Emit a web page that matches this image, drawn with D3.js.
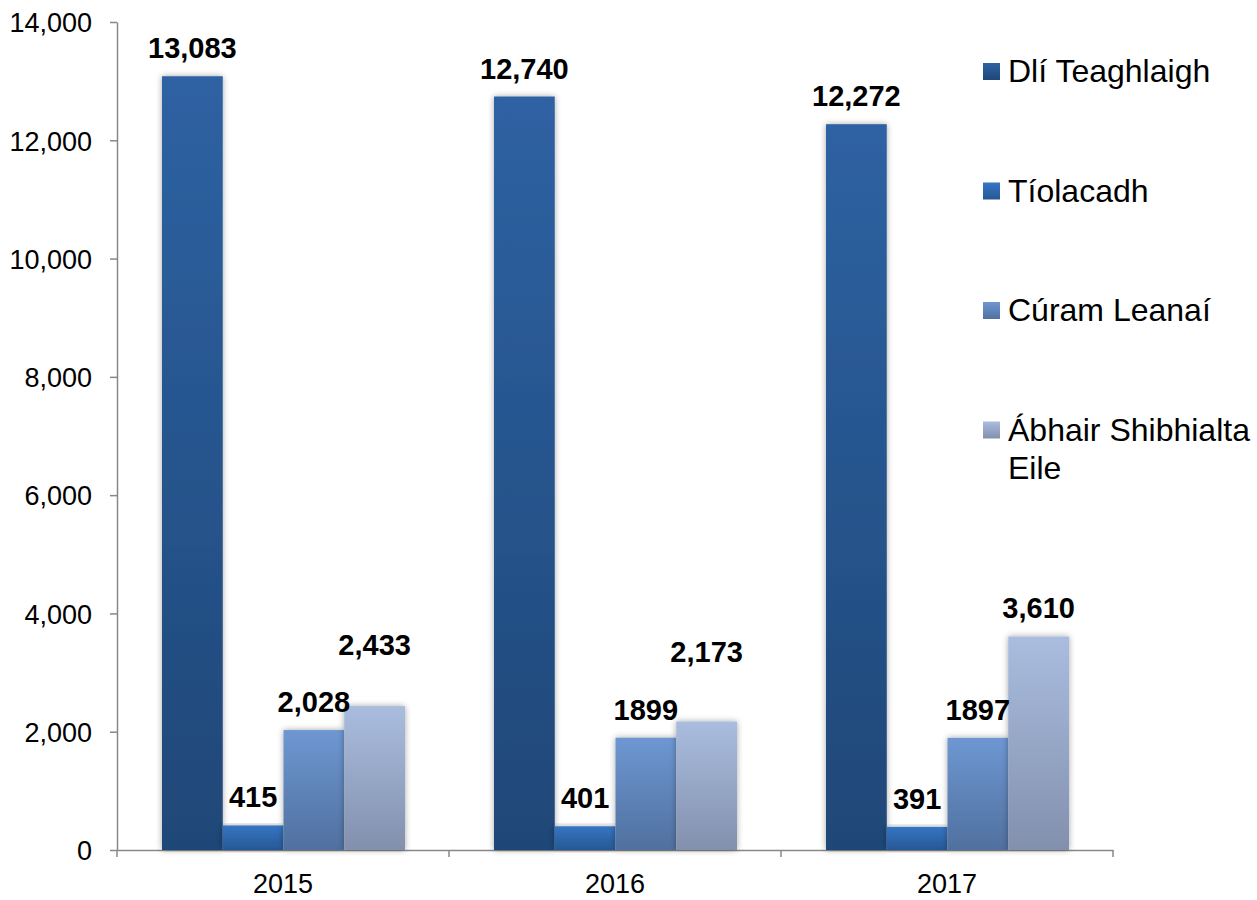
<!DOCTYPE html>
<meta charset="utf-8">
<script src="https://d3js.org/d3.v7.min.js"></script>
<style>
  body { margin: 0; background: #fff; }
  svg text { font-family: "Liberation Sans", Arimo, Arial, sans-serif; }
</style>
<div id="my_dataviz"></div>
<script>

// data
var years = ["2015", "2016", "2017"]
var seriesNames = ["Dlí Teaghlaigh", "Tíolacadh", "Cúram Leanaí", "Ábhair Shibhialta Eile"]
var dliTeaghlaigh = [13083, 12740, 12272]
var tiolacadh = [415, 401, 391]
var curamLeanai = [2028, 1899, 1897]
var abhairEile = [2433, 2173, 3610]
var labelTexts = [
  ["13,083", "12,740", "12,272"],
  ["415", "401", "391"],
  ["2,028", "1899", "1897"],
  ["2,433", "2,173", "3,610"]
]
var yTicks = [0, 2000, 4000, 6000, 8000, 10000, 12000, 14000]

var allSeries = [dliTeaghlaigh, tiolacadh, curamLeanai, abhairEile]

// gradient colours (top, bottom) per series
var gradColors = [
  ["#2e62a3", "#1f4777"],
  ["#3575c2", "#275896"],
  ["#6e97d2", "#50709f"],
  ["#aabddf", "#8290ad"]
]

var margin = {top: 22, right: 142, bottom: 50, left: 117},
  width = 1257 - margin.left - margin.right,
  height = 900 - margin.top - margin.bottom;

var root = d3.select("#my_dataviz")
  .append("svg")
    .attr("width", 1257)
    .attr("height", 900)

var defs = root.append("defs")
gradColors.forEach(function(c, i) {
  var g = defs.append("linearGradient")
    .attr("id", "grad" + i)
    .attr("x1", 0).attr("y1", 0).attr("x2", 0).attr("y2", 1)
  g.append("stop").attr("offset", "0%").attr("stop-color", c[0])
  g.append("stop").attr("offset", "100%").attr("stop-color", c[1])
})
var shadow = defs.append("filter")
  .attr("id", "shadow")
  .attr("x", "-30%").attr("y", "-10%").attr("width", "160%").attr("height", "120%")
shadow.append("feDropShadow")
  .attr("dx", 0).attr("dy", 0)
  .attr("stdDeviation", 3)
  .attr("flood-color", "#000")
  .attr("flood-opacity", 0.35)

var svg = root.append("g")
  .attr("transform", "translate(" + margin.left + "," + margin.top + ")");

// scales
var x = d3.scaleBand()
  .domain(years)
  .range([0, 996])
  .paddingInner(0)
  .paddingOuter(0)

var inner = d3.scaleBand()
  .domain(d3.range(seriesNames.length))
  .range([45, x.bandwidth() - 44])

var y = d3.scaleLinear()
  .domain([0, 14000])
  .range([height, 0])

// y axis
var yAxis = svg.append("g")
  .call(d3.axisLeft(y).tickValues(yTicks).tickSize(7).tickSizeOuter(0).tickFormat(d3.format(",")))
yAxis.attr("font-family", null)
yAxis.select(".domain").attr("stroke", "#888").attr("stroke-width", 1.5)
yAxis.selectAll(".tick line").attr("stroke", "#888").attr("stroke-width", 1.5)
yAxis.selectAll(".tick text")
  .attr("x", -25)
  .attr("dy", "0.36em")
  .style("font-size", "27px")
  .attr("fill", "#000")

// x axis
var xAxis = svg.append("g")
  .attr("transform", "translate(0," + height + ")")
  .call(d3.axisBottom(x).tickSize(0).tickSizeOuter(0))
xAxis.attr("font-family", null)
xAxis.select(".domain").attr("stroke", "#888").attr("stroke-width", 1.5)
xAxis.selectAll(".tick text")
  .attr("y", 43)
  .attr("dy", null)
  .style("font-size", "27px")
  .attr("fill", "#000")
// band boundary ticks
xAxis.selectAll(".bound")
  .data(d3.range(years.length + 1))
  .enter()
  .append("line")
    .attr("x1", function(d) { return d === years.length ? x.range()[1] : x(years[d]) })
    .attr("x2", function(d) { return d === years.length ? x.range()[1] : x(years[d]) })
    .attr("y1", 0)
    .attr("y2", 7)
    .attr("stroke", "#888")
    .attr("stroke-width", 1.5)

// bars
var barData = []
allSeries.forEach(function(s, si) {
  s.forEach(function(v, yi) {
    barData.push({series: si, year: years[yi], value: v, label: labelTexts[si][yi], yi: yi})
  })
})

svg.append("g")
  .selectAll("rect")
  .data(barData)
  .enter()
  .append("rect")
    .attr("x", function(d) { return x(d.year) + inner(d.series) })
    .attr("y", function(d) { return y(d.value) })
    .attr("width", inner.bandwidth())
    .attr("height", function(d) { return height - y(d.value) })
    .attr("fill", function(d) { return "url(#grad" + d.series + ")" })
    .attr("filter", "url(#shadow)")

// value labels (the last series in the first two years sits higher in the original)
function labelLift(d) {
  if (d.series === 3 && d.yi === 0) return 51
  if (d.series === 3 && d.yi === 1) return 59
  return 18
}
svg.append("g")
  .selectAll("text")
  .data(barData)
  .enter()
  .append("text")
    .attr("x", function(d) { return x(d.year) + inner(d.series) + inner.bandwidth() / 2 })
    .attr("y", function(d) { return y(d.value) - labelLift(d) })
    .attr("text-anchor", "middle")
    .style("font-size", "29px")
    .style("font-weight", "bold")
    .attr("fill", "#000")
    .text(function(d) { return d.label })

// legend
var legendRows = [[seriesNames[0]], [seriesNames[1]], [seriesNames[2]], ["Ábhair Shibhialta", "Eile"]]
var legend = root.append("g")
  .attr("transform", "translate(983,63)")
var item = legend.selectAll("g")
  .data(legendRows)
  .enter()
  .append("g")
    .attr("transform", function(d, i) { return "translate(0," + (i * 119.5) + ")" })
item.append("rect")
  .attr("x", 0)
  .attr("y", 0)
  .attr("width", 17)
  .attr("height", 17)
  .attr("fill", function(d, i) { return "url(#grad" + i + ")" })
item.append("text")
  .attr("y", 19)
  .style("font-size", "32px")
  .attr("fill", "#000")
  .selectAll("tspan")
  .data(function(d) { return d })
  .enter()
  .append("tspan")
    .attr("x", 25)
    .attr("dy", function(d, i) { return i === 0 ? 0 : 38 })
    .text(function(d) { return d })

</script>
